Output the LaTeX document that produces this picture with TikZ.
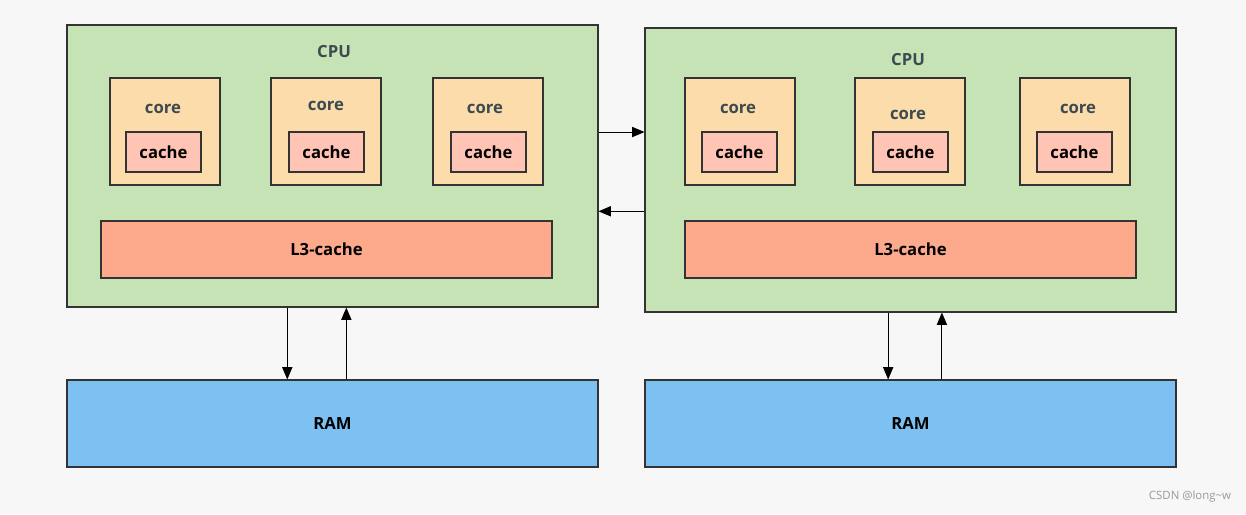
\documentclass[tikz,border=0pt]{standalone}
\usepackage{fontspec}
\setmainfont{Open Sans}
\usetikzlibrary{calc,fit,arrows}

\definecolor{cpugreen}{HTML}{C5E3B5}
\definecolor{corefill}{HTML}{FDDCAB}
\definecolor{cachefill}{HTML}{FFC4B3}
\definecolor{lthree}{HTML}{FDA98B}
\definecolor{ramblue}{HTML}{7CC1F2}
\definecolor{labelgray}{HTML}{3D4A50}
\definecolor{edgegray}{HTML}{333333}

\tikzset{
  boxline/.style={draw=edgegray, line width=0.6pt, inner sep=0pt},
  cpubox/.style={boxline, fill=cpugreen},
  corebox/.style={boxline, fill=corefill},
  cachebox/.style={boxline, fill=cachefill},
  lthreebox/.style={boxline, fill=lthree},
  rambox/.style={boxline, fill=ramblue},
  txt/.style={font=\fontsize{9.5}{11}\selectfont\bfseries, text=labelgray},
  txtb/.style={font=\fontsize{9.5}{11}\selectfont\bfseries, text=black},
  link/.style={-triangle 45, line width=0.6pt, black}
}

\begin{document}
\begin{tikzpicture}[x=0.02cm,y=-0.02cm]
    % achtergrond
    \fill[white!97!black] (0,0) rectangle (1246,514);
    \useasboundingbox (0,0) rectangle (1246,514);

    % linker CPU
    \node[cpubox, fit={(67,25) (598,307)}] (cpuL) {};
    \node[txt] (cpuLlab) at (334,52) {CPU};
    \node[corebox, fit={(110,78) (220,185)}] (coreLa) {};
    \node[corebox, fit={(271,78) (381,185)}] (coreLb) {};
    \node[corebox, fit={(433,78) (543,185)}] (coreLc) {};
    \node[txt] (coreLalab) at (163,109) {core};
    \node[txt] (coreLblab) at (326,106) {core};
    \node[txt] (coreLclab) at (485,109) {core};
    \node[cachebox, fit={(126,132) (201,172)}] (cacheLa) {};
    \node[cachebox, fit={(289,132) (364,172)}] (cacheLb) {};
    \node[cachebox, fit={(451,132) (526,172)}] (cacheLc) {};
    \node[txtb] at (cacheLa) {cache};
    \node[txtb] at (cacheLb) {cache};
    \node[txtb] at (cacheLc) {cache};
    \node[lthreebox, fit={(101,221) (552,278)}] (lthreeL) {};
    \node[txtb] at (lthreeL) {L3-cache};

    % rechter CPU
    \node[cpubox, fit={(645,28) (1176,312)}] (cpuR) {};
    \node[txt] (cpuRlab) at (908,60) {CPU};
    \node[corebox, fit={(685,78) (795,185)}] (coreRa) {};
    \node[corebox, fit={(855,78) (965,185)}] (coreRb) {};
    \node[corebox, fit={(1020,78) (1130,185)}] (coreRc) {};
    \node[txt] (coreRalab) at (738,109) {core};
    \node[txt] (coreRblab) at (908,115) {core};
    \node[txt] (coreRclab) at (1078,109) {core};
    \node[cachebox, fit={(702,132) (777,172)}] (cacheRa) {};
    \node[cachebox, fit={(873,132) (948,172)}] (cacheRb) {};
    \node[cachebox, fit={(1037,132) (1112,172)}] (cacheRc) {};
    \node[txtb] at (cacheRa) {cache};
    \node[txtb] at (cacheRb) {cache};
    \node[txtb] at (cacheRc) {cache};
    \node[lthreebox, fit={(685,221) (1136,278)}] (lthreeR) {};
    \node[txtb] at (lthreeR) {L3-cache};

    % geheugen
    \node[rambox, fit={(67,380) (598,467)}] (ramL) {};
    \node[txtb] at (ramL) {RAM};
    \node[rambox, fit={(645,380) (1176,467)}] (ramR) {};
    \node[txtb] at (ramR) {RAM};

    % verbindingen
    \coordinate (lr) at ($(cpuL.north east)!0.38!(cpuL.south east)$);
    \coordinate (rl) at ($(cpuL.north east)!0.66!(cpuL.south east)$);
    \draw[link] (lr) -- (lr -| cpuR.west);
    \draw[link] (rl -| cpuR.west) -- (rl);

    \coordinate (ldn) at ($(cpuL.south west)!0.415!(cpuL.south east)$);
    \coordinate (lup) at ($(cpuL.south west)!0.526!(cpuL.south east)$);
    \draw[link] (ldn) -- (ldn |- ramL.north);
    \draw[link] (lup |- ramL.north) -- (lup);

    \coordinate (rdn) at ($(cpuR.south west)!0.458!(cpuR.south east)$);
    \coordinate (rup) at ($(cpuR.south west)!0.559!(cpuR.south east)$);
    \draw[link] (rdn) -- (rdn |- ramR.north);
    \draw[link] (rup |- ramR.north) -- (rup);

    % watermerk
    \node[font=\fontsize{6.5}{8}\selectfont, text=gray!80] (mark) at (1190,497) {CSDN @long\textasciitilde w};
\end{tikzpicture}
\end{document}
